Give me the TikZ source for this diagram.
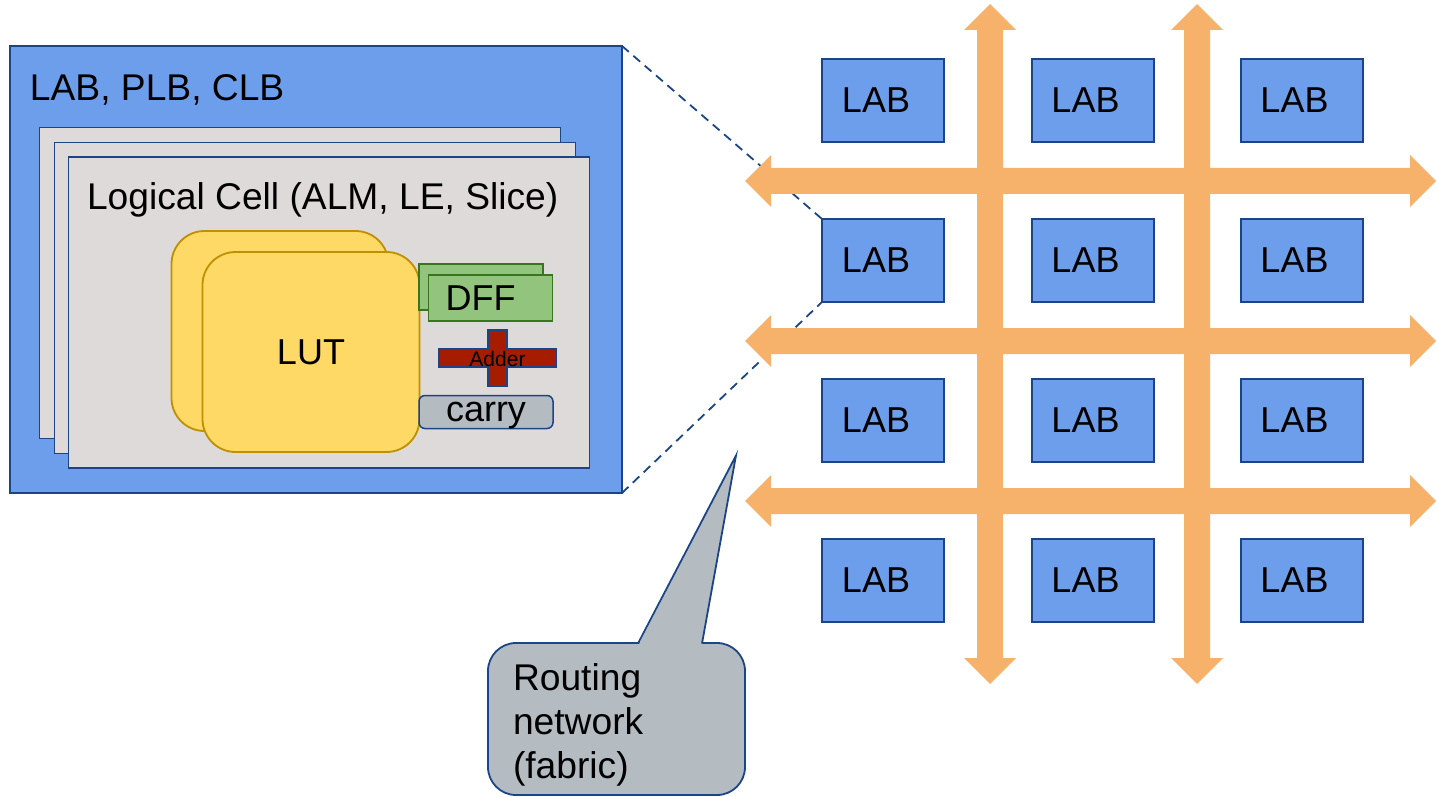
\documentclass[tikz,border=0pt]{standalone}
\usepackage{fontspec}
\setmainfont{Liberation Sans}

\definecolor{cellblue}{HTML}{6D9EEB}
\definecolor{edgeblue}{HTML}{1C4587}
\definecolor{cellgray}{HTML}{DDDAD9}
\definecolor{lutyellow}{HTML}{FFD966}
\definecolor{lutedge}{HTML}{BF9000}
\definecolor{ffgreen}{HTML}{93C47D}
\definecolor{ffedge}{HTML}{38761D}
\definecolor{addred}{HTML}{A61C00}
\definecolor{slate}{HTML}{B4BCC2}
\definecolor{route}{HTML}{F6B26B}

\newcommand{\bigfont}{\fontsize{36}{44}\selectfont}
\newcommand{\titlefont}{\fontsize{37.2}{44}\selectfont}
\newcommand{\smallfont}{\fontsize{21}{25}\selectfont}

\begin{document}
\begin{tikzpicture}[x=1pt,y=-1pt,
  every node/.style={inner sep=0pt, outer sep=0pt, font=\bigfont},
  block/.style={draw=edgeblue, fill=cellblue, line width=1.5pt},
  labbox/.style={draw=edgeblue, fill=cellblue, line width=2pt,
    minimum width=122pt, minimum height=83pt},
  cellbox/.style={draw=edgeblue, fill=cellgray, line width=1.5pt,
    minimum width=521pt, minimum height=311pt},
  lutbox/.style={draw=lutedge, fill=lutyellow, line width=1.8pt,
    rounded corners=33pt, minimum width=217pt, minimum height=200pt},
  ffbox/.style={draw=ffedge, fill=ffgreen, line width=1.5pt,
    minimum width=124pt, minimum height=46pt},
  carrybox/.style={draw=edgeblue, fill=slate, line width=1.5pt,
    rounded corners=6pt, minimum width=134pt, minimum height=33pt},
  adder/.style={draw=edgeblue, fill=addred, line width=1.5pt},
  routing/.style={fill=route},
  zoomline/.style={draw=edgeblue, line width=1.8pt, dash pattern=on 9pt off 6pt},
  calloutbox/.style={draw=edgeblue, fill=slate, line width=1.8pt,
    rounded corners=28pt, minimum width=257pt, minimum height=152pt}
]
\useasboundingbox (0,0) rectangle (1436,797);

% ---------- logic array block, enlarged ----------
\node[block, minimum width=612pt, minimum height=447pt] (clb) at (316,269.5) {};
\node[anchor=base west, font=\titlefont] (clbtitle) at (30,101) {LAB, PLB, CLB};

\node[cellbox] (cell1) at (300,283) {};
\node[cellbox] (cell2) at (315,298) {};
\node[cellbox] (cell3) at (329,312.5) {};
\node[anchor=base west, font=\titlefont] (celltitle) at (87,210) {Logical Cell (ALM, LE, Slice)};

\node[lutbox] (lut1) at (280,331) {};
\node[lutbox] (lut2) at (311,352) {LUT};

\node[ffbox] (dff1) at (481,287) {DFF\kern20pt};
\node[ffbox] (dff2) at (490.5,298) {DFF\kern20pt};

\draw[adder] (488,330) -- (507,330) -- (507,349) -- (556,349) -- (556,367)
  -- (507,367) -- (507,386) -- (488,386) -- (488,367) -- (439,367)
  -- (439,349) -- (488,349) -- cycle;
\node[font=\smallfont] (addtext) at (497.5,358.5) {Adder};

\node[carrybox] (carry) at (486,412) {};
\node[anchor=base] (carrytext) at (486,421.5) {carry};

% ---------- zoom guides ----------
\coordinate (g21nw) at (822,219);
\coordinate (g21sw) at (822,302);
\draw[zoomline] (clb.north east) -- (g21nw);
\draw[zoomline] (clb.south east) -- (g21sw);

% ---------- routing fabric ----------
\foreach \yy in {181,341,501}{
  \fill[routing] (745,\yy) -- (771,\yy-26) -- (771,\yy-13) -- (1410,\yy-13)
    -- (1410,\yy-26) -- (1436,\yy) -- (1410,\yy+26) -- (1410,\yy+13)
    -- (771,\yy+13) -- (771,\yy+26) -- cycle;
}
\foreach \xx in {990,1197}{
  \fill[routing] (\xx,4) -- (\xx+26,30) -- (\xx+13,30) -- (\xx+13,658)
    -- (\xx+26,658) -- (\xx,684) -- (\xx-26,658) -- (\xx-13,658)
    -- (\xx-13,30) -- (\xx-26,30) -- cycle;
}

% ---------- grid of blocks ----------
\foreach \r/\yy in {1/100.5,2/260.5,3/420.5,4/580.5}{
  \foreach \c/\xx in {1/883,2/1092.5,3/1301.5}{
    \node[labbox] (g\r\c) at (\xx,\yy) {LAB\kern14pt};
  }
}

% ---------- callout ----------
\node[calloutbox] (note) at (616.5,719) {};
\node[anchor=base west, align=left, font=\titlefont] (notetext) at (513,778)
  {Routing\\network\\(fabric)};
\coordinate (tip) at (736,455.5);
\fill[slate] (638,646) -- (tip) -- (702,646) -- cycle;
\draw[edgeblue, line width=1.8pt, line join=miter] (638,643.5) -- (tip) -- (702,643.5);
\end{tikzpicture}
\end{document}
